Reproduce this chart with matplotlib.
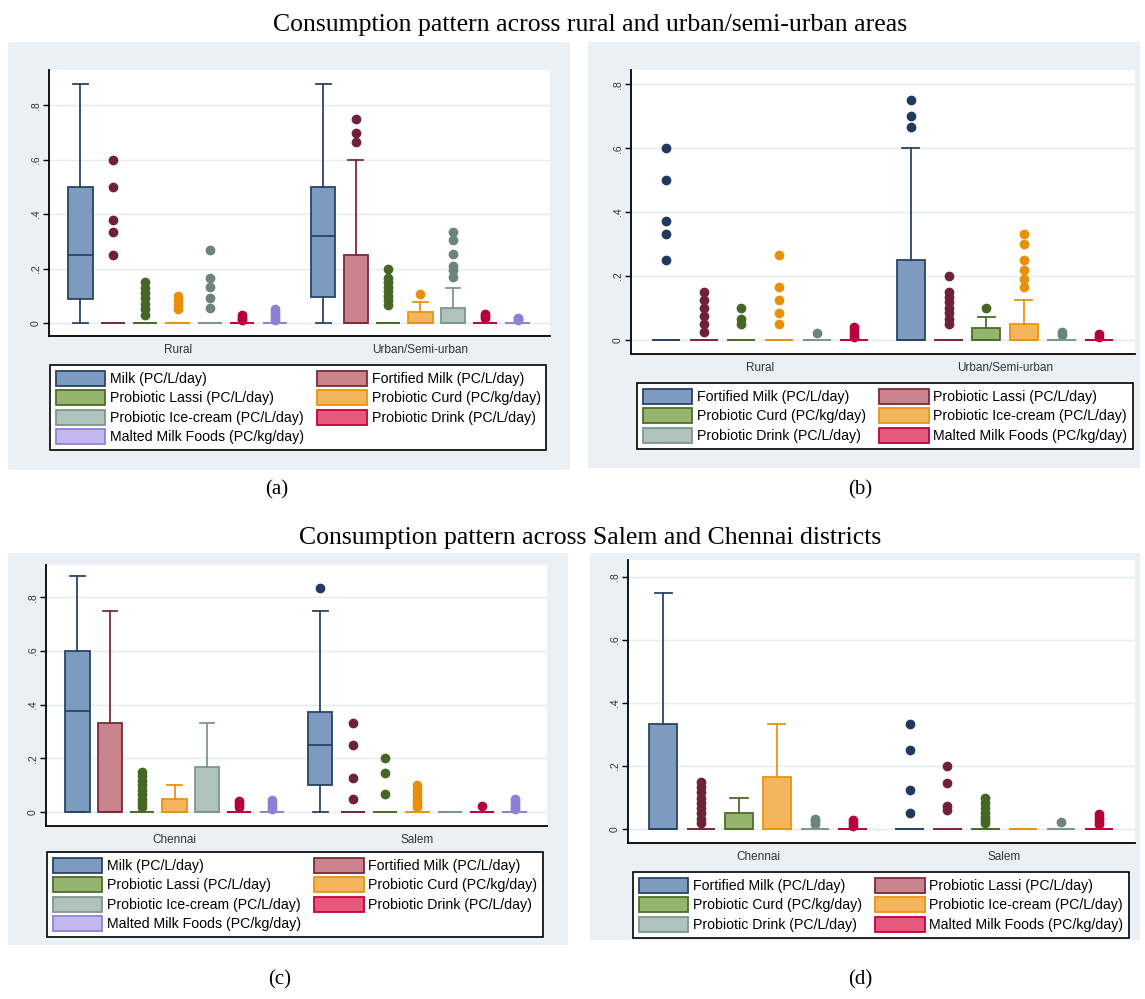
import matplotlib.pyplot as plt
from matplotlib.patches import Patch, Rectangle

plt.rcParams['font.family'] = ['Liberation Sans', 'DejaVu Sans']

W, H = 1145, 999

# --- series / groups ---
series_7 = ['Milk (PC/L/day)', 'Fortified Milk (PC/L/day)', 'Probiotic Lassi (PC/L/day)',
            'Probiotic Curd (PC/kg/day)', 'Probiotic Ice-cream (PC/L/day)',
            'Probiotic Drink (PC/L/day)', 'Malted Milk Foods (PC/kg/day)']
series_6 = series_7[1:]
groups_area = ['Rural', 'Urban/Semi-urban']
groups_dist = ['Chennai', 'Salem']

# stata-like colours: fill, outline, marker
fills = ['#7d9bbf', '#c8838b', '#95b46d', '#f5b55c', '#b0c2bc', '#e6587c', '#c3b9ee']
edges = ['#2a4467', '#7d2a3c', '#4d6d29', '#e69512', '#7f968e', '#c4003c', '#8f82d8']
dots = ['#1f3a5c', '#6f2237', '#456726', '#e8900a', '#6c857b', '#b5003a', '#8b7fd6']

# --- panel (a): rural vs urban, 7 series (first 7 = Rural, next 7 = Urban) ---
a_q1 = [0.088, 0, 0, 0, 0, 0, 0, 0.095, 0, 0, 0, 0, 0, 0]
a_med = [0.25, 0, 0, 0, 0, 0, 0, 0.32, 0, 0, 0, 0, 0, 0]
a_q3 = [0.50, 0, 0, 0, 0, 0, 0, 0.50, 0.25, 0, 0.04, 0.055, 0, 0]
a_lo = [0] * 14
a_hi = [0.877, 0, 0, 0, 0, 0, 0, 0.877, 0.60, 0, 0.077, 0.128, 0, 0]
a_fl = [[], [0.60, 0.50, 0.377, 0.333, 0.25],
        [0.15, 0.13, 0.11, 0.09, 0.07, 0.05, 0.03],
        [0.10, 0.083, 0.067, 0.05],
        [0.267, 0.167, 0.133, 0.09, 0.055],
        [0.03, 0.02, 0.01],
        [0.05, 0.04, 0.03, 0.02, 0.01],
        [], [0.75, 0.70, 0.667],
        [0.20, 0.167, 0.15, 0.133, 0.117, 0.10, 0.083, 0.067],
        [0.107],
        [0.333, 0.305, 0.253, 0.21, 0.195, 0.17],
        [0.033, 0.025, 0.017],
        [0.02, 0.015, 0.01]]

# --- panel (b): rural vs urban, 6 series without milk ---
b_q1 = [0] * 12
b_med = [0] * 12
b_q3 = [0, 0, 0, 0, 0, 0, 0.25, 0, 0.038, 0.05, 0, 0]
b_lo = [0] * 12
b_hi = [0, 0, 0, 0, 0, 0, 0.60, 0, 0.072, 0.125, 0, 0]
b_fl = [[0.60, 0.50, 0.372, 0.333, 0.25],
        [0.15, 0.125, 0.10, 0.075, 0.05, 0.025],
        [0.10, 0.067, 0.05],
        [0.267, 0.167, 0.125, 0.083, 0.05],
        [0.022],
        [0.04, 0.03, 0.02, 0.01],
        [0.75, 0.70, 0.667],
        [0.20, 0.15, 0.133, 0.12, 0.10, 0.085, 0.067, 0.05],
        [0.10],
        [0.333, 0.30, 0.25, 0.22, 0.19, 0.167],
        [0.025, 0.017],
        [0.02, 0.01]]

# --- panel (c): Chennai vs Salem, 7 series ---
c_q1 = [0, 0, 0, 0, 0, 0, 0, 0.10, 0, 0, 0, 0, 0, 0]
c_med = [0.378, 0, 0, 0, 0, 0, 0, 0.25, 0, 0, 0, 0, 0, 0]
c_q3 = [0.60, 0.333, 0, 0.05, 0.167, 0, 0, 0.374, 0, 0, 0, 0, 0, 0]
c_lo = [0] * 14
c_hi = [0.878, 0.75, 0, 0.10, 0.333, 0, 0, 0.75, 0, 0, 0, 0, 0, 0]
c_fl = [[], [],
        [0.15, 0.133, 0.117, 0.10, 0.083, 0.067, 0.05, 0.033, 0.02],
        [], [], [0.04, 0.03, 0.02],
        [0.045, 0.033, 0.02, 0.01],
        [0.833], [0.333, 0.25, 0.125, 0.05],
        [0.20, 0.146, 0.067],
        [0.10, 0.083, 0.067, 0.05, 0.04, 0.03, 0.02],
        [], [0.022],
        [0.05, 0.04, 0.03, 0.02, 0.01]]

# --- panel (d): Chennai vs Salem, 6 series ---
d_q1 = [0] * 12
d_med = [0] * 12
d_q3 = [0.333, 0, 0.05, 0.167, 0, 0, 0, 0, 0, 0, 0, 0]
d_lo = [0] * 12
d_hi = [0.75, 0, 0.10, 0.333, 0, 0, 0, 0, 0, 0, 0, 0]
d_fl = [[], [0.15, 0.133, 0.117, 0.10, 0.083, 0.067, 0.05, 0.033, 0.02],
        [], [], [0.033, 0.025, 0.017], [0.03, 0.02, 0.01],
        [0.333, 0.25, 0.125, 0.05],
        [0.20, 0.146, 0.074, 0.06],
        [0.10, 0.083, 0.067, 0.05, 0.04, 0.03, 0.02],
        [], [0.023], [0.047, 0.035, 0.025, 0.015]]

fig = plt.figure(figsize=(W / 100, H / 100), dpi=100)


def fx(x):
    return x / W


def fy(y):
    return 1 - y / H


def panel(frame, box, ylim, xpad, groups, names, q1, med, q3, lo, hi, fl, leg):
    n = len(names)
    fig.patches.append(Rectangle((fx(frame[0]), fy(frame[3])),
                                 fx(frame[2] - frame[0]), (frame[3] - frame[1]) / H,
                                 transform=fig.transFigure, facecolor='#eaf0f3',
                                 edgecolor='none', zorder=-5))
    ax = fig.add_axes([fx(box[0]), fy(box[3]), fx(box[2] - box[0]), (box[3] - box[1]) / H])
    ax.set_facecolor('white')
    pos = list(range(n)) + [n + 0.5 + i for i in range(n)]
    stats = [dict(q1=q1[k], med=med[k], q3=q3[k], whislo=lo[k], whishi=hi[k], fliers=fl[k])
             for k in range(2 * n)]
    bp = ax.bxp(stats, positions=pos, widths=0.75, capwidths=0.45,
                patch_artist=True, manage_ticks=False)
    for k in range(2 * n):
        c = k % n
        bp['boxes'][k].set(facecolor=fills[c], edgecolor=edges[c], linewidth=1.3)
        bp['medians'][k].set(color=edges[c], linewidth=1.3)
        for j in (2 * k, 2 * k + 1):
            bp['whiskers'][j].set(color=edges[c], linewidth=1.3)
            bp['caps'][j].set(color=edges[c], linewidth=1.3)
        bp['fliers'][k].set(marker='o', markersize=6, markerfacecolor=dots[c],
                            markeredgecolor=dots[c], linestyle='none')
    ax.set_xlim(-xpad[0], 2 * n - 0.5 + xpad[1])
    ax.set_ylim(*ylim)
    ax.set_yticks([0, 0.2, 0.4, 0.6, 0.8])
    ax.set_yticklabels(['0', '.2', '.4', '.6', '.8'], rotation=90, va='center')
    ax.set_xticks([(n - 1) / 2, n + 0.5 + (n - 1) / 2])
    ax.set_xticklabels(groups)
    ax.tick_params(axis='y', length=4, width=1, labelsize=7.5, labelcolor='#333333', pad=2)
    ax.tick_params(axis='x', length=0, labelsize=8.5, labelcolor='#333333', pad=6)
    ax.yaxis.grid(True, color='#e4ecef', linewidth=1)
    ax.set_axisbelow(True)
    for s in ('top', 'right'):
        ax.spines[s].set_visible(False)
    for s in ('left', 'bottom'):
        ax.spines[s].set_linewidth(1.3)
    # legend, filled row by row like stata
    handles = [Patch(facecolor=fills[i], edgecolor=edges[i], linewidth=1.3) for i in range(n)]
    order = list(range(0, n, 2)) + list(range(1, n, 2))
    lg = ax.legend([handles[i] for i in order], [names[i] for i in order], ncol=2,
                   loc='upper left', bbox_to_anchor=(fx(leg[0]), fy(leg[1])),
                   bbox_transform=fig.transFigure, fontsize=10.2,
                   fancybox=False, edgecolor='black', framealpha=1,
                   handlelength=3.5, handleheight=1.25, labelspacing=0.3,
                   handletextpad=0.35, columnspacing=0.9, borderpad=0.4, borderaxespad=0)
    lg.get_frame().set_linewidth(1.2)
    return ax


panel((8, 42, 570, 470), (49, 70, 550, 336), (-0.048, 0.93), (0.97, 1.0),
      groups_area, series_7, a_q1, a_med, a_q3, a_lo, a_hi, a_fl, (50, 365))
panel((588, 42, 1140, 468), (631, 70, 1135, 354), (-0.044, 0.845), (0.93, 0.95),
      groups_area, series_6, b_q1, b_med, b_q3, b_lo, b_hi, b_fl, (637, 383))
panel((8, 553, 568, 945), (46, 565, 547, 826), (-0.052, 0.92), (0.97, 1.0),
      groups_dist, series_7, c_q1, c_med, c_q3, c_lo, c_hi, c_fl, (47, 852))
panel((590, 553, 1140, 940), (628, 560, 1135, 843), (-0.044, 0.854), (0.93, 0.95),
      groups_dist, series_6, d_q1, d_med, d_q3, d_lo, d_hi, d_fl, (633, 872))

serif = ['Liberation Serif', 'DejaVu Serif']
fig.text(fx(590), fy(25), 'Consumption pattern across rural and urban/semi-urban areas',
         family=serif, fontsize=18.5, ha='center', va='center')
fig.text(fx(590), fy(538), 'Consumption pattern across Salem and Chennai districts',
         family=serif, fontsize=18.5, ha='center', va='center')
for lab, x, y in [('(a)', 277, 490), ('(b)', 860, 490), ('(c)', 280, 980), ('(d)', 860, 980)]:
    fig.text(fx(x), fy(y), lab, family=serif, fontsize=15, ha='center', va='center')

fig.savefig('out.png', dpi=100)
